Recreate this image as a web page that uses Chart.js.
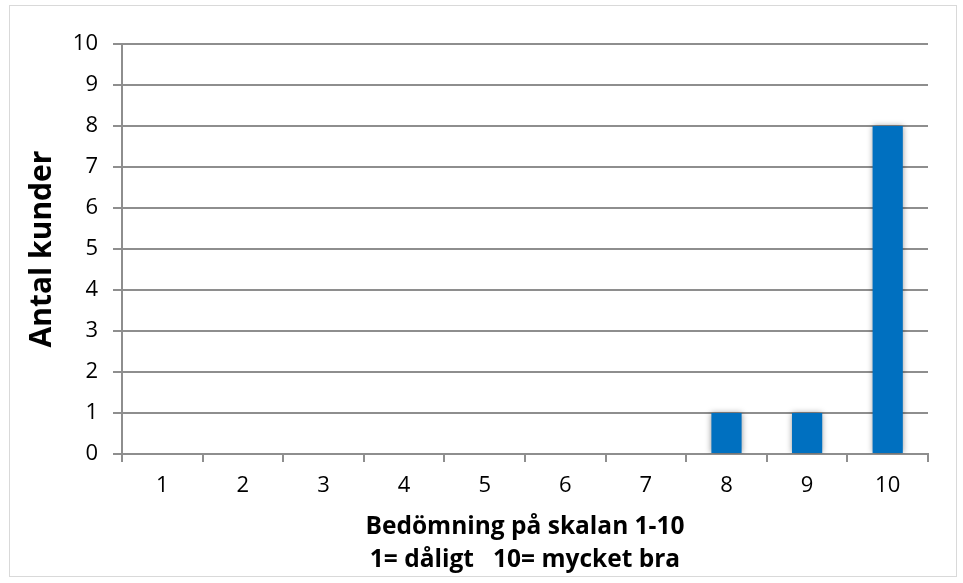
<!DOCTYPE html>
<html>
<head>
<meta charset="utf-8">
<script src="https://cdn.jsdelivr.net/npm/chart.js@4"></script>
<style>
html,body{margin:0;padding:0;background:#fff;}
#wrap{width:963px;height:583px;position:relative;}
</style>
</head>
<body>
<div id="wrap"><canvas id="c" width="963" height="583"></canvas></div>
<script>
const categories = ['1','2','3','4','5','6','7','8','9','10'];
const counts = [0,0,0,0,0,0,0,1,1,8];
const yTitle = 'Antal kunder';
const xTitleLines = ['Bedömning på skalan 1-10', '1= dåligt   10= mycket bra'];

const GRID = '#8e8e8e';
const FONT = "'Open Sans', sans-serif";

const framePlugin = {
  id: 'frame',
  beforeDraw(chart) {
    const ctx = chart.ctx;
    ctx.save();
    ctx.fillStyle = '#fff';
    ctx.fillRect(0, 0, chart.width, chart.height);
    ctx.strokeStyle = '#d9d9d9';
    ctx.lineWidth = 1;
    ctx.strokeRect(9.5, 5.5, 947, 571);
    ctx.restore();
  },
  beforeDatasetsDraw(chart) {
    const ctx = chart.ctx;
    ctx.save();
    ctx.shadowColor = 'rgba(0,0,0,0.4)';
    ctx.shadowBlur = 6;
    ctx.shadowOffsetX = 0;
    ctx.shadowOffsetY = 0;
  },
  afterDatasetsDraw(chart) {
    chart.ctx.restore();
  }
};

new Chart(document.getElementById('c'), {
  type: 'bar',
  data: {
    labels: categories,
    datasets: [{
      data: counts,
      backgroundColor: '#0070c0',
      borderWidth: 0,
      barPercentage: 0.375,
      categoryPercentage: 1
    }]
  },
  options: {
    responsive: false,
    animation: false,
    devicePixelRatio: 1,
    layout: { padding: { left: 0, right: 35, top: 44, bottom: 0 } },
    plugins: { legend: { display: false }, tooltip: { enabled: false } },
    scales: {
      x: {
        offset: true,
        afterFit(s) { s.height = 129; },
        grid: { display: true, drawOnChartArea: false, drawTicks: true, tickLength: 8, color: GRID, lineWidth: 2, offset: true },
        border: { display: true, color: GRID, width: 2 },
        ticks: { color: '#000', padding: 11, font: { family: FONT, size: 22 } },
        title: {
          display: true,
          text: xTitleLines,
          color: '#000',
          font: { family: FONT, size: 24.5, weight: 'bold', lineHeight: 33/24.5 },
          padding: { top: 0, bottom: 6 }
        }
      },
      y: {
        min: 0, max: 10,
        afterFit(s) { s.width = 122; },
        grid: { color: GRID, lineWidth: 2, tickLength: 9, drawTicks: true },
        border: { display: true, color: GRID, width: 2 },
        ticks: { stepSize: 1, color: '#000', padding: 15, font: { family: FONT, size: 22 } },
        title: {
          display: true,
          text: yTitle,
          color: '#000',
          font: { family: FONT, size: 30, weight: 'bold', lineHeight: 1.2 },
          padding: { top: 24, bottom: 0 }
        }
      }
    }
  },
  plugins: [framePlugin]
});
</script>
</body>
</html>
